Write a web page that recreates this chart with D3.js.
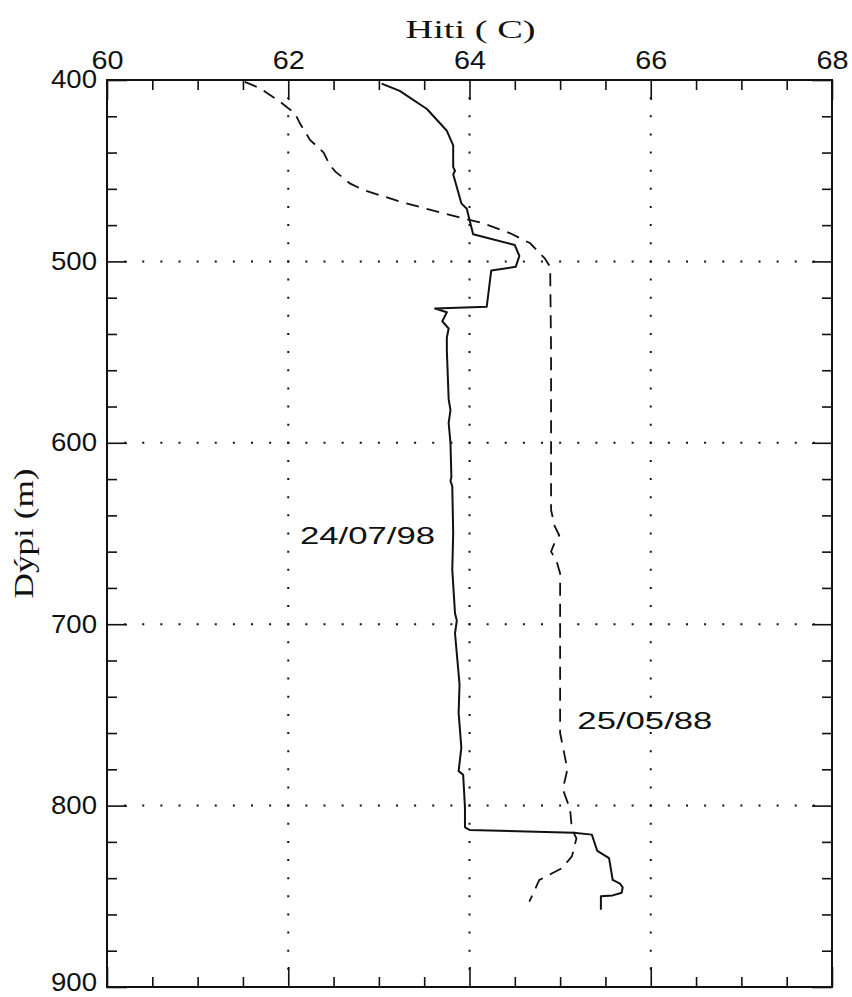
<!DOCTYPE html>
<html>
<head>
<meta charset="utf-8">
<script src="https://cdn.jsdelivr.net/npm/d3@7"></script>
<style>
  body { margin: 0; background: #fff; }
  svg { display: block; }
</style>
</head>
<body>
<svg id="chart" width="852" height="997"></svg>
<script>
// Axis labelling
const tempTicks = [60, 62, 64, 66, 68];
const depthTicks = [400, 500, 600, 700, 800, 900];
const tempGrid = [62, 64, 66];
const depthGrid = [500, 600, 700, 800];

// Temperature log of 24/07/98 (solid)
const depth1998 = [402, 406, 416, 428, 436, 448, 450, 452, 468, 471, 477, 485, 491, 497, 503, 505,
  525, 526, 528, 533, 537, 542, 549, 576, 582, 589, 600, 619, 621, 624, 650, 670, 694, 698, 705,
  733, 749, 768, 781, 783, 801, 812, 813.4, 815, 816, 825, 829, 841, 843, 845, 848, 849.5, 850, 857.4];
const temp1998 = [63.03, 63.23, 63.53, 63.75, 63.82, 63.82, 63.84, 63.82, 63.91, 63.97, 64.00, 64.04, 64.50, 64.55, 64.51, 64.24,
  64.19, 63.62, 63.75, 63.70, 63.77, 63.75, 63.75, 63.77, 63.79, 63.77, 63.79, 63.80, 63.79, 63.81, 63.82, 63.81, 63.84, 63.86, 63.84,
  63.89, 63.88, 63.91, 63.88, 63.93, 63.95, 63.95, 64.00, 65.15, 65.35, 65.41, 65.54, 65.58, 65.66, 65.69, 65.68, 65.58, 65.45, 65.45];

// Temperature log of 25/05/88 (dashed)
const depth1988 = [401, 404.6, 412, 415.6, 418, 424, 433, 440, 447, 450.5, 457, 460.6, 467, 474.4, 479, 484.5, 490,
  498.3, 503, 549, 582, 637, 646, 651, 655, 660, 665, 672, 760, 780, 791, 802, 813, 818, 828, 834.5, 840, 841, 853];
const temp1988 = [61.52, 61.69, 61.91, 62.00, 62.07, 62.13, 62.24, 62.39, 62.46, 62.52, 62.68, 62.83, 63.23, 63.78, 64.15, 64.45, 64.67,
  64.83, 64.89, 64.90, 64.90, 64.90, 64.94, 64.99, 64.94, 64.90, 64.96, 65.00, 65.00, 65.08, 65.03, 65.11, 65.13, 65.18, 65.13, 65.02, 64.81, 64.77, 64.66];

// Curve annotations
const seriesLabels = ["24/07/98", "25/05/88"];
const labelTemps = [62.13, 65.19];
const labelDepths = [651, 753];

const svg = d3.select("#chart");
const plotLeft = 107, plotRight = 832, plotTop = 80, plotBottom = 987;

const x = d3.scaleLinear().domain([60, 68]).range([plotLeft, plotRight]);
const y = d3.scaleLinear().domain([400, 900]).range([plotTop, plotBottom]);

const ink = "#111";
const sansFont = "'Liberation Sans', 'DejaVu Sans', sans-serif";
const serifFont = "'Liberation Serif', 'DejaVu Serif', serif";

// Dotted grid
const xStep = (x(61) - x(60)) / 5;
const yStep = (y(500) - y(400)) / 10;
svg.append("g").selectAll("line").data(depthGrid).join("line")
  .attr("x1", x(60)).attr("x2", x(68))
  .attr("y1", d => y(d)).attr("y2", d => y(d))
  .attr("stroke", ink).attr("stroke-width", 2)
  .attr("stroke-dasharray", `2 ${xStep - 2}`).attr("stroke-dashoffset", 1);
svg.append("g").selectAll("line").data(tempGrid).join("line")
  .attr("x1", d => x(d)).attr("x2", d => x(d))
  .attr("y1", y(400)).attr("y2", y(900))
  .attr("stroke", ink).attr("stroke-width", 2)
  .attr("stroke-dasharray", `2 ${yStep - 2}`).attr("stroke-dashoffset", 1);

// Ticks on all four sides, pointing inward
const minorT = d3.range(60, 68.01, 0.5).filter(v => v % 2 !== 0);
const minorD = d3.range(400, 900.01, 20).filter(v => v % 100 !== 0);

function styleAxis(g) {
  g.select(".domain").remove();
  g.selectAll(".tick line").attr("stroke", ink).attr("stroke-width", 1.6);
}

svg.append("g").attr("transform", `translate(0,${plotTop})`)
  .call(d3.axisTop(x).tickValues(tempTicks).tickSizeInner(-20).tickSizeOuter(0).tickPadding(11).tickFormat(d3.format("d")))
  .call(styleAxis)
  .call(g => g.selectAll("text").attr("font-family", sansFont).attr("font-size", 26).attr("fill", ink)
    .attr("textLength", 32).attr("lengthAdjust", "spacingAndGlyphs"));
svg.append("g").attr("transform", `translate(0,${plotTop})`)
  .call(d3.axisTop(x).tickValues(minorT).tickSizeInner(-10).tickSizeOuter(0).tickFormat(""))
  .call(styleAxis);

svg.append("g").attr("transform", `translate(0,${plotBottom})`)
  .call(d3.axisBottom(x).tickValues(tempTicks).tickSizeInner(-20).tickSizeOuter(0).tickFormat(""))
  .call(styleAxis);
svg.append("g").attr("transform", `translate(0,${plotBottom})`)
  .call(d3.axisBottom(x).tickValues(minorT).tickSizeInner(-10).tickSizeOuter(0).tickFormat(""))
  .call(styleAxis);

// Left labels sit centred on their ticks; the lowest one is lifted to stay on the page
svg.append("g").attr("transform", `translate(${plotLeft},0)`)
  .call(d3.axisLeft(y).tickValues(depthTicks).tickSizeInner(-20).tickSizeOuter(0).tickPadding(10).tickFormat(d3.format("d")))
  .call(styleAxis)
  .call(g => g.selectAll("text").attr("font-family", sansFont).attr("font-size", 26).attr("fill", ink)
    .attr("dy", d => d === 900 ? "0.12em" : "0.3em")
    .attr("textLength", 46).attr("lengthAdjust", "spacingAndGlyphs"));
svg.append("g").attr("transform", `translate(${plotLeft},0)`)
  .call(d3.axisLeft(y).tickValues(minorD).tickSizeInner(-10).tickSizeOuter(0).tickFormat(""))
  .call(styleAxis);

svg.append("g").attr("transform", `translate(${plotRight},0)`)
  .call(d3.axisRight(y).tickValues(depthTicks).tickSizeInner(-20).tickSizeOuter(0).tickFormat(""))
  .call(styleAxis);
svg.append("g").attr("transform", `translate(${plotRight},0)`)
  .call(d3.axisRight(y).tickValues(minorD).tickSizeInner(-10).tickSizeOuter(0).tickFormat(""))
  .call(styleAxis);

// Frame
svg.append("rect")
  .attr("x", plotLeft).attr("y", plotTop)
  .attr("width", plotRight - plotLeft).attr("height", plotBottom - plotTop)
  .attr("fill", "none").attr("stroke", ink).attr("stroke-width", 2);

// Profiles
const line = d3.line().x(d => x(d[0])).y(d => y(d[1]));
svg.append("path")
  .datum(temp1988.map((t, i) => [t, depth1988[i]]))
  .attr("d", line)
  .attr("fill", "none").attr("stroke", ink).attr("stroke-width", 1.8)
  .attr("stroke-dasharray", "13 8");
svg.append("path")
  .datum(temp1998.map((t, i) => [t, depth1998[i]]))
  .attr("d", line)
  .attr("fill", "none").attr("stroke", ink).attr("stroke-width", 2)
  .attr("stroke-linejoin", "round");

// Curve labels
svg.append("g").selectAll("text").data(seriesLabels).join("text")
  .attr("x", (d, i) => x(labelTemps[i]))
  .attr("y", (d, i) => y(labelDepths[i]))
  .attr("dy", "0.35em")
  .attr("font-family", sansFont).attr("font-size", 24).attr("fill", ink)
  .attr("textLength", 135).attr("lengthAdjust", "spacingAndGlyphs")
  .text(d => d);

// Axis titles
svg.append("text")
  .attr("x", (plotLeft + plotRight) / 2 + 1).attr("y", 38)
  .attr("text-anchor", "middle")
  .attr("font-family", serifFont).attr("font-size", 26).attr("fill", ink)
  .attr("textLength", 130).attr("lengthAdjust", "spacingAndGlyphs")
  .text("Hiti ( C)");

svg.append("text")
  .attr("transform", `translate(33,${(plotTop + plotBottom) / 2}) rotate(-90)`)
  .attr("text-anchor", "middle")
  .attr("font-family", serifFont).attr("font-size", 27).attr("fill", ink)
  .attr("textLength", 130).attr("lengthAdjust", "spacingAndGlyphs")
  .text("Dýpi (m)");
</script>
</body>
</html>
